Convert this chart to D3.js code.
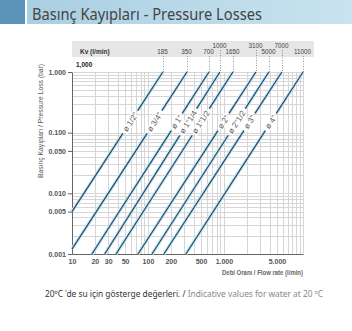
<!DOCTYPE html>
<html><head><meta charset="utf-8">
<script src="https://cdn.jsdelivr.net/npm/d3@7"></script>
<style>body{margin:0;background:#fff;} svg{display:block}</style>
</head><body>
<svg id="c" width="352" height="331"></svg>
<script>
// ---- data ----
const pipeSizes = ["ø 1/2\"", "ø 3/4\"", "ø 1\"", "ø 1\"1/4", "ø 1\"1/2", "ø 2\"", "ø 2\"1/2", "ø 3\"", "ø 4\""];
const kvLabels = ["185", "350", "700", "1000", "1650", "3100", "5000", "7000", "11000"];
const startFlow = [10, 10, 18.3, 27, 38, 74, 113, 162, 316];
const startLoss = [0.005, 0.0012, 0.001, 0.001, 0.001, 0.001, 0.001, 0.001, 0.001];
const endFlow = [157, 326, 635, 885, 1312, 2636, 3908, 5795, 11000];
const endLoss = [1, 1, 1, 1, 1, 1, 1, 1, 1];
const xTickValues = [10, 20, 30, 50, 100, 200, 500, 1000, 5000];
const xTickLabels = ["10", "20", "30", "50", "100", "200", "500", "1.000", "5.000"];
const yTickValues = [1, 0.1, 0.05, 0.01, 0.005, 0.001];
const yTickLabels = ["1.000", "0.100", "0.050", "0.010", "0.005", "0.001"];
const raisedKv = ["1000", "3100", "7000"];

const svg = d3.select("#c");
const FONT = "'Liberation Sans Narrow','Liberation Sans',Arial,sans-serif";

// header
const defs = svg.append("defs");
const g1 = defs.append("linearGradient").attr("id", "hb");
g1.append("stop").attr("offset", "0%").attr("stop-color", "#a9cfe2");
g1.append("stop").attr("offset", "100%").attr("stop-color", "#c9e3ef");
svg.append("rect").attr("x", 0).attr("y", 0).attr("width", 25).attr("height", 24).attr("fill", "#5b94b8");
svg.append("rect").attr("x", 27).attr("y", 0).attr("width", 325).attr("height", 24).attr("fill", "url(#hb)");
svg.append("text").attr("x", 32).attr("y", 20).attr("font-family", "'Noto Sans','DejaVu Sans',sans-serif")
  .attr("font-size", 17).attr("fill", "#444").attr("textLength", 230).attr("lengthAdjust", "spacingAndGlyphs")
  .text("Basınç Kayıpları - Pressure Losses");

// scales
const x = d3.scaleLog().domain([10, 11000]).range([72, 303]);
const y = d3.scaleLog().domain([0.001, 1]).range([254, 72]);

// Kv band
svg.append("rect").attr("x", 72).attr("y", 41).attr("width", 242).attr("height", 16).attr("fill", "#e6e6e6");
svg.append("text").attr("x", 80).attr("y", 54).attr("font-family", FONT).attr("font-size", 6.5)
  .attr("font-weight", "bold").attr("fill", "#333").text("Kv (l/min)");

// grid
const vGrid = [];
[10, 100, 1000].forEach(dec => { for (let k = 1; k <= 9; k++) vGrid.push(k * dec); });
vGrid.push(10000, 11000);
const hGrid = [];
[0.001, 0.01, 0.1].forEach(dec => { for (let k = 1; k <= 9; k++) hGrid.push(+(k * dec).toFixed(4)); });
hGrid.push(1);
const grid = svg.append("g").attr("stroke", "#d6d6d6").attr("stroke-width", 1).attr("shape-rendering", "crispEdges");
grid.selectAll("line.v").data(vGrid).join("line").attr("class", "v")
  .attr("x1", d => Math.round(x(d)) + 0.5).attr("x2", d => Math.round(x(d)) + 0.5)
  .attr("y1", y(1)).attr("y2", y(0.001));
grid.selectAll("line.h").data(hGrid).join("line").attr("class", "h")
  .attr("y1", d => Math.round(y(d)) + 0.5).attr("y2", d => Math.round(y(d)) + 0.5)
  .attr("x1", x(10)).attr("x2", x(11000));

// axes
const yAxis = svg.append("g").attr("transform", "translate(72,0)")
  .call(d3.axisLeft(y).tickValues(yTickValues).tickFormat((d, i) => yTickLabels[i]).tickSize(4).tickSizeOuter(0).tickPadding(2));
const xAxis = svg.append("g").attr("transform", "translate(0,254)")
  .call(d3.axisBottom(x).tickValues(xTickValues).tickFormat((d, i) => xTickLabels[i]).tickSize(0).tickSizeOuter(0).tickPadding(5));
[yAxis, xAxis].forEach(a => {
  a.select(".domain").attr("stroke", "#666");
  a.selectAll(".tick line").attr("stroke", "#666");
  a.selectAll("text").attr("font-family", FONT).attr("font-size", 7).attr("font-weight", "bold").attr("fill", "#555");
});

svg.append("text").attr("x", 76).attr("y", 67).attr("font-family", FONT).attr("font-size", 6.5)
  .attr("font-weight", "bold").attr("fill", "#222").text("1,000");

// axis titles
svg.append("text").attr("transform", "translate(43,121) rotate(-90)").attr("text-anchor", "middle")
  .attr("font-family", FONT).attr("font-size", 6.5).attr("fill", "#555")
  .attr("textLength", 114).attr("lengthAdjust", "spacingAndGlyphs")
  .text("Basınç Kayıpları / Pressure Loss (bar)");
svg.append("text").attr("x", 303).attr("y", 275).attr("text-anchor", "end")
  .attr("font-family", FONT).attr("font-size", 6.5).attr("font-weight", "bold").attr("fill", "#666")
  .attr("textLength", 81).attr("lengthAdjust", "spacingAndGlyphs")
  .text("Debi Oranı / Flow rate (l/min)");

// Kv labels and dotted leaders
kvLabels.forEach((lab, i) => {
  const xx = Math.round(x(endFlow[i])) + 0.5;
  const ly = raisedKv.includes(lab) ? 48 : 54;
  svg.append("line").attr("x1", xx).attr("x2", xx).attr("y1", ly + 2).attr("y2", y(endLoss[i]))
    .attr("stroke", "#777").attr("stroke-width", 0.8).attr("stroke-dasharray", "1,1.5");
  svg.append("text").attr("x", xx - 1).attr("y", ly).attr("text-anchor", "middle")
    .attr("font-family", FONT).attr("font-size", 6.3).attr("fill", "#444").text(lab);
});

// pipe lines with labels
const labelLoss = 0.15;
const pg = svg.append("g");
pipeSizes.forEach((name, i) => {
  const p0 = [x(startFlow[i]), y(startLoss[i])];
  const p1 = [x(endFlow[i]), y(endLoss[i])];
  const dx = p1[0] - p0[0], dy = p1[1] - p0[1];
  const len = Math.hypot(dx, dy);
  const u = [dx / len, dy / len];
  const t = (y(labelLoss) - p0[1]) / dy;
  const c = [p0[0] + t * dx, p0[1] + t * dy];
  const ang = Math.atan2(dy, dx) * 180 / Math.PI;
  const txt = pg.append("text").attr("transform", `translate(${c[0]},${c[1]}) rotate(${ang})`)
    .attr("text-anchor", "middle").attr("dy", "0.35em")
    .attr("font-family", "'Liberation Sans',Arial,sans-serif").attr("font-size", 8).attr("fill", "#5a5a5a")
    .attr("stroke", "#fff").attr("stroke-width", 2.5).attr("paint-order", "stroke")
    .text(name);
  const L = txt.node().getComputedTextLength();
  const gap = L / 2 + 3;
  const a = [c[0] - u[0] * gap, c[1] - u[1] * gap];
  const b = [c[0] + u[0] * gap, c[1] + u[1] * gap];
  [[p0, a], [b, p1]].forEach(seg => {
    pg.append("line").attr("x1", seg[0][0]).attr("y1", seg[0][1]).attr("x2", seg[1][0]).attr("y2", seg[1][1])
      .attr("stroke", "#cfe7f2").attr("stroke-width", 3.4).attr("stroke-linecap", "butt");
    pg.append("line").attr("x1", seg[0][0]).attr("y1", seg[0][1]).attr("x2", seg[1][0]).attr("y2", seg[1][1])
      .attr("stroke", "#22506e").attr("stroke-width", 1.3).attr("stroke-linecap", "butt");
  });
});

// footer
const ft = svg.append("text").attr("x", 45).attr("y", 297)
  .attr("font-family", "'Noto Sans','DejaVu Sans',sans-serif").attr("font-size", 8)
  .attr("textLength", 278).attr("lengthAdjust", "spacingAndGlyphs");
ft.append("tspan").attr("fill", "#333").text("20ºC 'de su için gösterge değerleri. / ");
ft.append("tspan").attr("fill", "#888").text("Indicative values for water at 20 ºC");
</script>
</body></html>
